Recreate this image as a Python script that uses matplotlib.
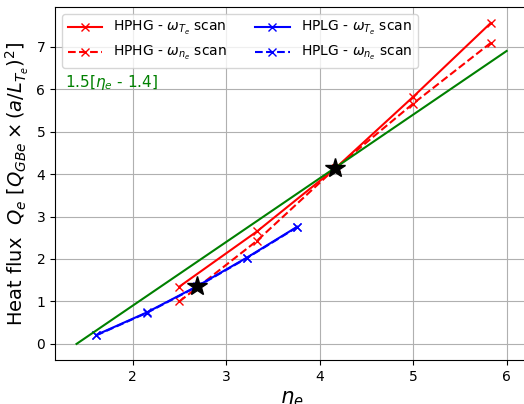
import numpy as np
import matplotlib
matplotlib.use("Agg")
import matplotlib.pyplot as plt

# HPHG scans (high pressure, high gradient)
hphg_eta = [2.50, 3.33, 4.17, 5.00, 5.83]
hphg_q_wT = [1.35, 2.65, 4.14, 5.82, 7.56]
hphg_q_wn = [1.00, 2.43, 4.14, 5.66, 7.09]

# HPLG scans (high pressure, low gradient)
hplg_eta = [1.61, 2.15, 2.69, 3.22, 3.76]
hplg_q_wT = [0.21, 0.74, 1.36, 2.03, 2.76]
hplg_q_wn = [0.20, 0.73, 1.35, 2.02, 2.75]

# nominal operating points
star_eta = [2.69, 4.16]
star_q = [1.36, 4.14]

# linear reference fit
fit_eta = [1.4, 6.0]
fit_slope = 1.5
fit_offset = 1.4

fig = plt.figure(figsize=(5.24, 4.04), dpi=100)
ax = fig.add_axes([0.105, 0.109, 0.903, 0.874])

ax.plot(hphg_eta, hphg_q_wT, 'r-x', lw=1.5, ms=6, label=r'HPHG - $\omega_{T_e}$ scan')
ax.plot(hphg_eta, hphg_q_wn, 'r--x', lw=1.5, ms=6, label=r'HPHG - $\omega_{n_e}$ scan')
ax.plot(hplg_eta, hplg_q_wT, 'b-x', lw=1.5, ms=6, label=r'HPLG - $\omega_{T_e}$ scan')
ax.plot(hplg_eta, hplg_q_wn, 'b--x', lw=1.5, ms=6, label=r'HPLG - $\omega_{n_e}$ scan')

fx = np.array(fit_eta)
ax.plot(fx, fit_slope * (fx - fit_offset), color='green', lw=1.5)
ax.text(0.021, 0.787, r'1.5[$\eta_e$ - 1.4]', color='green', fontsize=11,
        transform=ax.transAxes, va='center', ha='left')

ax.plot(star_eta, star_q, '*', color='black', ms=15, zorder=5)

ax.grid(True)
ax.legend(loc='upper left', ncol=2, fontsize=10, handlelength=2.5)
ax.set_xlabel(r'$\eta_e$', fontsize=15)
ax.set_ylabel(r'Heat flux  $Q_e$ [$Q_{GBe} \times (a/L_{T_e})^2$]', fontsize=14)

fig.savefig('out.png', dpi=100)
